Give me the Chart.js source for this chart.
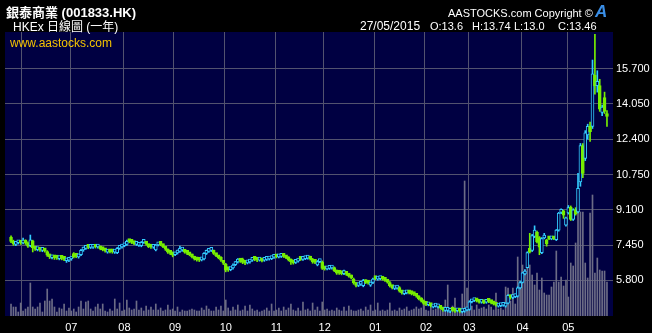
<!DOCTYPE html>
<html>
<head>
<meta charset="utf-8">
<script src="https://cdn.jsdelivr.net/npm/chart.js@4.4.1/dist/chart.umd.min.js"></script>
<style>
  html, body { margin: 0; padding: 0; background: #000; }
  #wrap { position: relative; width: 652px; height: 333px; overflow: hidden;
          font-family: "Liberation Sans", Arial, "Noto Sans CJK TC", sans-serif; }
  #wrap canvas { position: absolute; left: 0; top: 0; }
  .t { position: absolute; color: #fff; white-space: pre; line-height: 1; font-size: 12px; }
  .q { font-size: 11px; }
</style>
</head>
<body>
<div id="wrap">
  <canvas id="stockChart" width="652" height="333"></canvas>
  <div class="t" style="left:6px;top:6px;font-size:13px;font-weight:bold;">銀泰商業 (001833.HK)</div>
  <div class="t" style="left:13px;top:21px;">HKEx 日線圖 (一年)</div>
  <div class="t" style="left:10px;top:37px;color:#f5c400;">www.aastocks.com</div>
  <div class="t" style="left:448px;top:8px;font-size:11px;">AASTOCKS.com Copyright ©</div>
  <div class="t" style="left:595px;top:3px;font-size:17px;font-weight:bold;font-style:italic;color:#3a8ee6;">A</div>
  <div class="t" style="left:360px;top:20px;">27/05/2015</div>
  <div class="t q" style="left:430px;top:21px;">O:13.6</div>
  <div class="t q" style="left:472px;top:21px;">H:13.74</div>
  <div class="t q" style="left:514px;top:21px;">L:13.0</div>
  <div class="t q" style="left:558px;top:21px;">C:13.46</div>
</div>
<script>
// months shown on the x axis and trading days in each (first is the tail of May 2014)
const monthNames = ['05', '06', '07', '08', '09', '10', '11', '12', '01', '02', '03', '04', '05'];
const monthDays = [5, 20, 22, 21, 21, 21, 20, 21, 21, 18, 22, 19, 17];
const yTicks = [5.8, 7.45, 9.1, 10.75, 12.4, 14.05, 15.7];

const opens = [
  7.82, 7.62, 7.48, 7.56, 7.60,
  7.55, 7.65, 7.55, 7.42, 7.65, 7.30, 7.24, 7.28, 7.20, 7.24, 7.15, 6.98, 6.86, 6.90, 6.86, 6.82, 6.86, 6.82, 6.72, 6.74,
  6.80, 7.05, 6.96, 6.90, 7.00, 7.22, 7.30, 7.38, 7.34, 7.35, 7.38, 7.36, 7.36, 7.28, 7.24, 7.12, 7.16, 7.14, 7.12, 7.10, 7.30, 7.36,
  7.42, 7.48, 7.66, 7.64, 7.58, 7.48, 7.44, 7.42, 7.58, 7.58, 7.45, 7.40, 7.35, 7.22, 7.46, 7.52, 7.46, 7.34, 7.22, 7.12, 7.08,
  7.00, 7.08, 7.16, 7.22, 7.20, 7.12, 7.06, 6.98, 6.88, 6.80, 6.76, 6.76, 6.80, 7.06, 7.16, 7.20, 7.18, 7.02, 6.92, 6.86, 6.68,
  6.55, 6.34, 6.30, 6.38, 6.54, 6.66, 6.74, 6.70, 6.64, 6.62, 6.66, 6.74, 6.80, 6.78, 6.75, 6.76, 6.74, 6.78, 6.80, 6.82, 6.88,
  6.94, 6.90, 6.92, 6.96, 6.92, 6.86, 6.76, 6.66, 6.64, 6.70, 6.80, 6.78, 6.82, 6.84, 6.88, 6.78, 6.68, 6.52, 6.68, 6.66,
  6.38, 6.34, 6.36, 6.38, 6.38, 6.24, 6.18, 6.16, 6.12, 6.14, 6.06, 6.00, 5.86, 5.66, 5.56, 5.62, 5.55, 5.78, 5.72, 5.58, 5.70,
  5.94, 5.86, 5.88, 5.90, 5.86, 5.80, 5.70, 5.52, 5.42, 5.44, 5.46, 5.28, 5.18, 5.22, 5.26, 5.22, 5.18, 5.14, 5.04, 4.94, 4.84,
  4.74, 4.66, 4.68, 4.56, 4.60, 4.56, 4.58, 4.48, 4.40, 4.40, 4.36, 4.44, 4.40, 4.38, 4.40, 4.34, 4.36, 4.42,
  4.44, 4.80, 4.86, 4.90, 4.84, 4.78, 4.80, 4.78, 4.90, 4.82, 4.76, 4.70, 4.60, 4.62, 4.64, 4.60, 4.74, 5.06, 5.00, 5.04, 5.06, 5.45,
  5.70, 6.10, 6.40, 7.30, 7.20, 7.85, 8.05, 7.80, 7.10, 7.78, 7.70, 7.78, 7.74, 7.80, 7.70, 8.15, 8.98, 9.05, 8.38,
  8.95, 9.22, 8.65, 9.10, 9.00, 10.40, 12.10, 11.50, 12.60, 13.00, 13.00, 15.40, 14.90, 14.90, 13.65, 14.35, 13.60
];
const highs = [
  7.88, 7.68, 7.62, 7.66, 7.66,
  7.78, 7.70, 7.60, 7.92, 7.68, 7.36, 7.34, 7.33, 7.30, 7.28, 7.19, 7.03, 6.98, 6.96, 6.92, 6.94, 6.92, 6.88, 6.80, 6.88,
  6.90, 7.10, 7.02, 7.03, 7.25, 7.36, 7.41, 7.44, 7.42, 7.44, 7.43, 7.48, 7.40, 7.33, 7.28, 7.24, 7.21, 7.20, 7.21, 7.34, 7.41, 7.48,
  7.54, 7.68, 7.72, 7.70, 7.63, 7.58, 7.53, 7.62, 7.67, 7.63, 7.50, 7.45, 7.44, 7.49, 7.58, 7.58, 7.50, 7.39, 7.27, 7.17, 7.13,
  7.12, 7.22, 7.40, 7.30, 7.25, 7.17, 7.11, 7.03, 6.93, 6.85, 6.81, 6.85, 7.10, 7.22, 7.28, 7.27, 7.22, 7.07, 6.97, 6.91, 6.73,
  6.60, 6.40, 6.42, 6.57, 6.68, 6.82, 6.79, 6.84, 6.69, 6.73, 6.79, 6.85, 6.85, 6.83, 6.83, 6.81, 6.83, 6.87, 6.89, 6.93, 6.97,
  6.99, 6.99, 7.00, 7.01, 6.97, 6.91, 6.81, 6.71, 6.75, 6.81, 6.85, 6.87, 6.91, 6.93, 6.93, 6.83, 6.73, 6.73, 6.78, 6.71,
  6.44, 6.43, 6.46, 6.48, 6.43, 6.29, 6.23, 6.21, 6.28, 6.19, 6.11, 6.05, 5.91, 5.71, 5.66, 5.75, 5.85, 5.83, 5.78, 5.73, 5.91,
  5.99, 5.95, 5.97, 5.95, 5.91, 5.85, 5.75, 5.57, 5.51, 5.54, 5.51, 5.33, 5.27, 5.32, 5.31, 5.27, 5.23, 5.19, 5.09, 4.99, 4.89,
  4.79, 4.75, 4.73, 4.67, 4.69, 4.65, 4.63, 4.53, 4.51, 4.53, 4.47, 4.49, 4.45, 4.47, 4.45, 4.45, 4.47, 4.52,
  4.85, 4.92, 4.96, 4.95, 4.89, 4.87, 4.85, 4.89, 4.96, 4.87, 4.81, 4.75, 4.69, 4.71, 4.74, 4.75, 5.14, 5.11, 5.12, 5.16, 5.50, 5.76,
  6.18, 6.30, 7.14, 8.00, 7.95, 8.35, 8.10, 7.85, 7.80, 8.00, 7.72, 7.82, 7.82, 7.84, 8.18, 8.98, 9.15, 9.08, 8.76,
  9.30, 9.28, 9.15, 9.20, 10.80, 12.20, 12.20, 12.80, 13.10, 13.20, 16.10, 17.30, 15.60, 15.20, 14.00, 14.60, 13.74
];
const lows = [
  7.56, 7.44, 7.42, 7.50, 7.48,
  7.50, 7.48, 7.34, 7.37, 7.13, 7.20, 7.18, 7.16, 7.14, 7.12, 6.92, 6.82, 6.80, 6.78, 6.78, 6.76, 6.76, 6.72, 6.64, 6.68,
  6.74, 6.85, 6.86, 6.84, 6.95, 7.16, 7.25, 7.28, 7.29, 7.30, 7.31, 7.31, 7.23, 7.18, 7.12, 7.07, 7.08, 7.07, 7.06, 7.05, 7.25, 7.31,
  7.37, 7.44, 7.56, 7.52, 7.47, 7.43, 7.39, 7.37, 7.53, 7.45, 7.33, 7.30, 7.30, 7.18, 7.41, 7.42, 7.33, 7.20, 7.06, 7.00, 6.90,
  6.95, 7.03, 7.11, 7.16, 7.07, 7.00, 6.95, 6.85, 6.75, 6.70, 6.68, 6.71, 6.76, 7.01, 7.11, 7.15, 7.01, 6.91, 6.81, 6.69, 6.54,
  6.20, 6.22, 6.25, 6.33, 6.49, 6.61, 6.64, 6.58, 6.54, 6.57, 6.61, 6.69, 6.72, 6.68, 6.70, 6.66, 6.69, 6.73, 6.75, 6.77, 6.83,
  6.85, 6.85, 6.87, 6.87, 6.81, 6.71, 6.55, 6.56, 6.59, 6.65, 6.73, 6.73, 6.77, 6.79, 6.75, 6.60, 6.58, 6.48, 6.63, 6.31,
  6.28, 6.29, 6.31, 6.33, 6.21, 6.08, 6.08, 6.06, 6.07, 6.03, 5.95, 5.87, 5.62, 5.50, 5.51, 5.57, 5.50, 5.65, 5.62, 5.52, 5.65,
  5.83, 5.81, 5.83, 5.81, 5.75, 5.67, 5.49, 5.40, 5.37, 5.39, 5.25, 5.16, 5.13, 5.17, 5.17, 5.12, 5.09, 5.01, 4.89, 4.79, 4.67,
  4.62, 4.61, 4.56, 4.51, 4.55, 4.51, 4.45, 4.36, 4.35, 4.32, 4.29, 4.35, 4.30, 4.33, 4.30, 4.28, 4.31, 4.37,
  4.40, 4.75, 4.81, 4.79, 4.73, 4.73, 4.71, 4.73, 4.76, 4.70, 4.65, 4.59, 4.55, 4.57, 4.59, 4.55, 4.70, 4.92, 4.95, 4.99, 5.02, 5.40,
  5.68, 6.06, 6.38, 7.08, 7.15, 7.80, 7.55, 7.00, 7.05, 7.74, 7.40, 7.70, 7.70, 7.70, 7.66, 8.10, 8.92, 8.70, 8.34,
  8.90, 8.60, 8.60, 8.85, 8.95, 10.20, 10.60, 11.40, 12.40, 12.30, 12.90, 14.50, 14.60, 13.70, 13.50, 13.60, 13.00
];
const closes = [
  7.62, 7.50, 7.56, 7.60, 7.55,
  7.65, 7.55, 7.40, 7.70, 7.33, 7.26, 7.28, 7.22, 7.24, 7.18, 6.98, 6.90, 6.92, 6.86, 6.84, 6.88, 6.83, 6.78, 6.75, 6.80,
  6.84, 6.90, 6.92, 6.98, 7.20, 7.30, 7.36, 7.34, 7.36, 7.38, 7.36, 7.38, 7.28, 7.24, 7.18, 7.18, 7.14, 7.13, 7.15, 7.30, 7.36, 7.42,
  7.48, 7.62, 7.62, 7.58, 7.52, 7.52, 7.48, 7.58, 7.62, 7.50, 7.38, 7.36, 7.38, 7.45, 7.52, 7.48, 7.38, 7.26, 7.12, 7.06, 6.98,
  7.06, 7.16, 7.26, 7.24, 7.12, 7.06, 7.00, 6.90, 6.80, 6.76, 6.74, 6.80, 7.06, 7.16, 7.22, 7.22, 7.06, 6.96, 6.86, 6.74, 6.60,
  6.28, 6.30, 6.36, 6.52, 6.62, 6.76, 6.70, 6.64, 6.60, 6.68, 6.74, 6.80, 6.78, 6.74, 6.78, 6.72, 6.78, 6.82, 6.84, 6.88, 6.92,
  6.90, 6.94, 6.95, 6.92, 6.86, 6.76, 6.66, 6.62, 6.70, 6.76, 6.78, 6.82, 6.86, 6.88, 6.80, 6.66, 6.64, 6.68, 6.72, 6.36,
  6.34, 6.38, 6.40, 6.42, 6.26, 6.14, 6.14, 6.12, 6.16, 6.08, 6.00, 5.92, 5.68, 5.56, 5.60, 5.70, 5.80, 5.70, 5.68, 5.68, 5.86,
  5.88, 5.90, 5.92, 5.86, 5.80, 5.72, 5.54, 5.46, 5.46, 5.48, 5.30, 5.22, 5.22, 5.26, 5.22, 5.18, 5.14, 5.06, 4.94, 4.84, 4.72,
  4.68, 4.70, 4.62, 4.62, 4.64, 4.60, 4.50, 4.42, 4.46, 4.48, 4.42, 4.40, 4.36, 4.42, 4.36, 4.40, 4.42, 4.46,
  4.80, 4.86, 4.90, 4.84, 4.78, 4.82, 4.76, 4.84, 4.82, 4.76, 4.70, 4.64, 4.64, 4.66, 4.68, 4.70, 5.10, 5.00, 5.06, 5.10, 5.45, 5.70,
  6.15, 6.22, 7.10, 7.12, 7.90, 8.15, 7.60, 7.35, 7.75, 7.86, 7.50, 7.74, 7.78, 7.74, 8.15, 8.95, 9.05, 8.85, 8.72,
  9.20, 8.65, 9.10, 8.90, 10.10, 12.10, 10.80, 12.70, 13.00, 12.75, 15.45, 14.90, 15.10, 13.80, 13.90, 13.70, 13.46
];
// volume, arbitrary units (10 px per unit on the hidden axis)
const volumes = [
  1.2, 0.9, 0.9, 0.4, 1.3,
  0.5, 0.7, 0.9, 3.3, 0.9, 0.7, 0.9, 1.3, 0.4, 1.5, 2.7, 1.5, 1.7, 0.9, 0.4, 0.8, 0.7, 1.2, 0.5, 0.8,
  0.5, 0.7, 0.4, 0.9, 1.5, 0.7, 1.4, 1.5, 0.7, 0.5, 0.9, 1.2, 0.7, 1.2, 0.5, 0.4, 0.7, 0.5, 1.7, 0.7, 1.3, 0.5,
  0.6, 1.6, 0.8, 0.6, 0.7, 1.5, 0.6, 0.8, 0.5, 1.0, 0.6, 0.9, 0.6, 1.2, 0.6, 0.8, 0.5, 0.6, 1.1, 0.6, 0.7,
  0.5, 0.9, 0.4, 0.6, 0.5, 0.5, 0.6, 0.7, 0.6, 0.5, 0.5, 0.8, 0.6, 1.0, 0.7, 0.5, 0.5, 0.9, 0.6, 1.0, 0.5,
  1.6, 0.8, 0.5, 0.9, 0.6, 1.1, 0.5, 0.6, 1.0, 0.5, 1.1, 0.7, 0.5, 0.6, 0.4, 0.5, 0.6, 0.8, 0.5, 1.2, 0.5,
  0.6, 0.8, 0.5, 0.9, 0.6, 0.8, 1.2, 0.6, 0.5, 0.8, 0.5, 1.4, 0.6, 0.7, 0.5, 1.3, 0.6, 0.9, 0.5, 1.4,
  0.6, 0.7, 0.5, 0.6, 0.5, 0.8, 0.6, 0.5, 0.9, 0.5, 1.0, 0.6, 0.5, 0.5, 0.6, 0.7, 0.5, 0.9, 0.6, 1.1, 0.5,
  0.6, 1.3, 0.5, 0.6, 0.5, 0.6, 1.3, 0.5, 0.6, 0.5, 0.8, 0.6, 0.7, 0.9, 0.5, 0.6, 0.7, 0.9, 0.7, 0.8, 1.1,
  0.6, 0.5, 0.9, 0.6, 0.7, 1.2, 0.6, 0.5, 1.6, 3.1, 0.8, 1.0, 1.8, 0.7, 0.8, 2.2, 13.5, 2.8,
  1.3, 1.0, 0.6, 1.1, 0.7, 0.8, 0.9, 0.7, 1.1, 0.9, 0.6, 2.3, 0.7, 0.8, 0.6, 2.9, 2.8, 1.5, 2.8, 1.2, 5.9, 2.9,
  5.1, 4.6, 5.1, 5.1, 4.1, 3.1, 4.3, 2.6, 3.8, 2.3, 2.1, 2.1, 2.9, 3.4, 6.5, 3.4, 3.9, 3.0, 3.6,
  1.9, 5.3, 5.0, 7.3, 10.6, 10.4, 10.4, 5.3, 3.8, 10.3, 12.1, 4.3, 5.8, 4.6, 4.5, 4.5, 3.4
];

const UP = '#33ccff';
const DOWN = '#77ee00';
const NAVY = '#000042';
const GRID = '#52526f';
const VOL = '#6c6c86';

// two empty slots on each side of the data, like the original plot margin
const labels = ['s0', 's1'];
const monthStart = [false, false];
const tickText = ['', ''];
monthNames.forEach((m, mi) => {
  for (let k = 0; k < monthDays[mi]; k++) {
    labels.push(mi + '-' + m + '-' + (k + 1));
    monthStart.push(mi > 0 && k === 0);
    tickText.push(mi > 1 && k === 0 ? m : '');
  }
});
labels.push('e0', 'e1');
monthStart.push(false, false);
tickText.push('', '');

const pad = arr => [null, null, ...arr, null, null];
const isUp = closes.map((c, i) => c >= opens[i]);
const candleColor = pad(isUp.map(u => u ? UP : DOWN));
const bodyFill = pad(isUp.map(u => u ? NAVY : DOWN));
const wickData = pad(closes.map((c, i) => [lows[i], highs[i]]));
const bodyData = pad(closes.map((c, i) => [Math.min(opens[i], c), Math.max(opens[i], c)]));
const volData = pad(volumes);

const bgPlugin = {
  id: 'bg',
  beforeDraw(chart) {
    const { ctx, chartArea: a } = chart;
    ctx.save();
    ctx.fillStyle = '#000';
    ctx.fillRect(0, 0, chart.width, chart.height);
    ctx.fillStyle = NAVY;
    ctx.fillRect(a.left, a.top, a.right - a.left, a.bottom - a.top);
    ctx.restore();
  }
};

const tickFont = { family: '"Liberation Sans", Arial, sans-serif', size: 11 };

const ctx = document.getElementById('stockChart').getContext('2d');
const stockChart = new Chart(ctx, {
  type: 'bar',
  data: {
    labels: labels,
    datasets: [
      { label: 'Volume', data: volData, yAxisID: 'yVol', backgroundColor: VOL,
        barThickness: 1, grouped: false, order: 3 },
      { label: 'Range', data: wickData, yAxisID: 'y', backgroundColor: candleColor,
        barThickness: 1, grouped: false, order: 2 },
      { label: 'Body', data: bodyData, yAxisID: 'y', backgroundColor: bodyFill,
        borderColor: candleColor, borderWidth: 1, borderSkipped: false,
        barThickness: 3, minBarLength: 3, grouped: false, order: 1 }
    ]
  },
  options: {
    responsive: false,
    devicePixelRatio: 1,
    animation: false,
    layout: { padding: { left: 5, top: 32, right: 0, bottom: 0 } },
    plugins: { legend: { display: false }, tooltip: { enabled: false } },
    scales: {
      x: {
        type: 'category',
        offset: true,
        grid: {
          offset: true,
          drawTicks: false,
          color: c => (c.index !== undefined && monthStart[c.index]) ? GRID : 'rgba(0,0,0,0)'
        },
        border: { display: false },
        ticks: {
          autoSkip: false, maxRotation: 0, minRotation: 0, padding: 5,
          color: '#fff', font: tickFont,
          callback: (v, i) => tickText[i]
        },
        afterFit: s => { s.height = 17; }
      },
      y: {
        position: 'right',
        min: 4.136,
        max: 17.41,
        afterBuildTicks: s => { s.ticks = yTicks.map(v => ({ value: v })); },
        grid: { color: GRID, drawTicks: false },
        border: { display: false },
        ticks: { padding: 3, color: '#fff', font: tickFont, callback: v => Number(v).toFixed(3) },
        afterFit: s => { s.width = 39; }
      },
      yVol: { display: false, min: 0, max: 28.4 }
    }
  },
  plugins: [bgPlugin]
});
</script>
</body>
</html>
